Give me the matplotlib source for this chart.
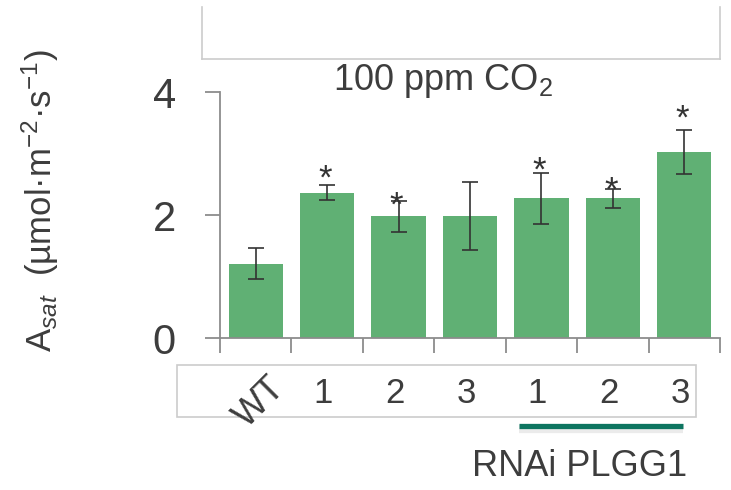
import matplotlib
matplotlib.use("Agg")
import matplotlib.pyplot as plt
import matplotlib.transforms as mtransforms
import matplotlib.patheffects as pe
from matplotlib.lines import Line2D
from matplotlib.patches import Rectangle
import numpy as np

plt.rcParams['font.family'] = ['Liberation Sans', 'DejaVu Sans']
plt.rcParams['mathtext.fontset'] = 'custom'
plt.rcParams['mathtext.rm'] = 'Liberation Sans'
plt.rcParams['mathtext.it'] = 'Liberation Sans:italic'

# ─── Dati ─────────────────────────────────────────────────────────────────────

linee = ["WT", "1", "2", "3", "1", "2", "3"]
a_sat = [1.21, 2.36, 1.98, 1.98, 2.27, 2.27, 3.03]
a_sat_err = [0.25, 0.12, 0.25, 0.55, 0.42, 0.16, 0.36]
# altezza dell'asterisco di significatività (None = non significativo)
stella_y = [None, 2.70, 2.26, None, 2.83, 2.51, 3.68]
y_ticks = [0, 2, 4]

VERDE = "#60b074"
TESTO = "#3d3d3d"
ASSE = "#8c8c8c"
BORDO = "#cccccc"
TEAL = "#0e7560"

W, H = 731, 490


def fx(px):
    return px / W


def fy(py):
    return 1 - py / H


# ─── Figura ───────────────────────────────────────────────────────────────────

fig = plt.figure(figsize=(W / 100, H / 100), dpi=100)
ax = fig.add_axes([fx(220), fy(338), fx(720) - fx(220), fy(92) - fy(338)])

x = np.arange(len(linee))
ax.bar(x, a_sat, width=0.76, color=VERDE, zorder=2)
ax.errorbar(x, a_sat, yerr=a_sat_err, fmt="none", ecolor="#333333",
            elinewidth=1.2, capsize=5.5, capthick=1.2, zorder=3)
for xi, sy in zip(x, stella_y):
    if sy is not None:
        t = mtransforms.offset_copy(ax.transData, fig=fig, x=-2, y=-7, units="dots")
        ax.text(xi, sy, "*", ha="center", va="center", fontsize=25,
                color="#333333", clip_on=False, zorder=4, transform=t)

ax.set_xlim(-0.5, len(linee) - 0.5)
ax.set_ylim(0, 4)
ax.set_yticks(y_ticks)
ax.set_xticks(np.arange(-0.5, len(linee)))
ax.set_xticklabels([])
ax.tick_params(axis="both", direction="out", length=10.8, width=1.3, color=ASSE)
ax.tick_params(axis="y", labelsize=30, labelcolor=TESTO, pad=21)
for s in ("top", "right"):
    ax.spines[s].set_visible(False)
for s in ("left", "bottom"):
    ax.spines[s].set_color(ASSE)
    ax.spines[s].set_linewidth(1.3)

# riquadro superiore aperto in alto
for (x0, y0), (x1, y1) in [((202, 7), (202, 59)), ((202, 59), (720, 59)),
                           ((720, 59), (720, 7))]:
    fig.add_artist(Line2D([fx(x0), fx(x1)], [fy(y0), fy(y1)], color=BORDO,
                          lw=1.2, transform=fig.transFigure))

fig.text(fx(443), fy(90), "100 ppm CO$_2$", ha="center", va="baseline",
         fontsize=26, color=TESTO)

# riquadro etichette linee
fig.add_artist(Rectangle((fx(177), fy(417)), fx(696) - fx(177), fy(365) - fy(417),
                         fill=False, edgecolor=BORDO, lw=1.2,
                         transform=fig.transFigure))

trans = mtransforms.blended_transform_factory(ax.transData, fig.transFigure)
for i, nome in enumerate(linee):
    if nome == "WT":
        t = mtransforms.offset_copy(trans, fig=fig, x=4, y=-2, units="dots")
        fig.text(i, fy(400), nome, rotation=45, ha="center", va="center",
                 fontsize=26, color=TESTO, transform=t)
    else:
        t = mtransforms.offset_copy(trans, fig=fig, x=-4, y=0, units="dots")
        fig.text(i, fy(403), nome, ha="center", va="baseline",
                 fontsize=25, color=TESTO, transform=t)

# barra del gruppo RNAi
fig.add_artist(Line2D([3.69, 5.98], [fy(426), fy(426)], color=TEAL, lw=3.8,
                      solid_capstyle="butt", transform=trans,
                      path_effects=[pe.SimpleLineShadow(offset=(0, -2.5), linewidth=6,
                                                        shadow_color="k", alpha=0.08),
                                    pe.Normal()]))
fig.text(fx(580), fy(476), "RNAi PLGG1", ha="center", va="baseline",
         fontsize=26, color=TESTO)

fig.text(fx(40), fy(201), "A$_{\\mathit{sat}}$  (µmol·m$^{-2}$·s$^{-1}$)",
         rotation=90, ha="center", va="center", fontsize=25, color=TESTO)

fig.savefig("out.png", dpi=100)
